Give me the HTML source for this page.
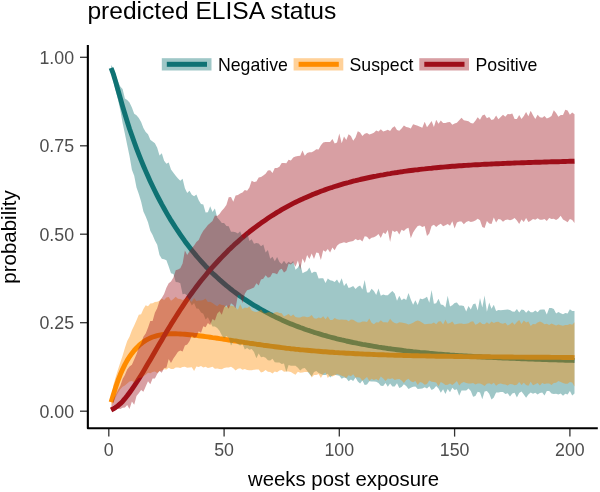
<!DOCTYPE html>
<html><head><meta charset="utf-8"><style>
html,body{margin:0;padding:0;background:#fff;width:600px;height:492px;overflow:hidden}
svg{display:block;font-family:"Liberation Sans",sans-serif}
#wrap{will-change:transform;width:600px;height:492px}
</style></head><body><div id="wrap">
<svg width="600" height="492" viewBox="0 0 600 492">
<rect width="600" height="492" fill="#fff"/>
<g fill="none" stroke-width="4.9" stroke-linejoin="round" stroke-linecap="butt">
<path d="M111.1,68.0 L113.4,74.2 L115.7,81.9 L118.0,90.1 L120.3,98.2 L122.6,106.3 L124.9,114.0 L127.2,121.5 L129.5,128.7 L131.9,135.5 L134.2,142.0 L136.5,148.3 L138.8,154.3 L141.1,160.1 L143.4,165.7 L145.7,171.1 L148.0,176.3 L150.3,181.4 L152.6,186.3 L154.9,191.0 L157.2,195.6 L159.5,200.0 L161.8,204.4 L164.1,208.5 L166.4,212.6 L168.7,216.6 L171.0,220.4 L173.4,224.1 L175.7,227.7 L178.0,231.2 L180.3,234.6 L182.6,237.9 L184.9,241.2 L187.2,244.3 L189.5,247.3 L191.8,250.2 L194.1,253.1 L196.4,255.9 L198.7,258.5 L201.0,261.1 L203.3,263.7 L205.6,266.2 L207.9,268.5 L210.2,270.9 L212.5,273.2 L214.9,275.4 L217.2,277.5 L219.5,279.6 L221.8,281.6 L224.1,283.6 L226.4,285.6 L228.7,287.4 L231.0,289.3 L233.3,291.1 L235.6,292.8 L237.9,294.5 L240.2,296.2 L242.5,297.8 L244.8,299.4 L247.1,300.9 L249.4,302.4 L251.7,303.9 L254.0,305.3 L256.4,306.7 L258.7,308.0 L261.0,309.4 L263.3,310.6 L265.6,311.9 L267.9,313.1 L270.2,314.3 L272.5,315.5 L274.8,316.6 L277.1,317.8 L279.4,318.8 L281.7,319.9 L284.0,320.9 L286.3,321.9 L288.6,322.9 L290.9,323.9 L293.2,324.8 L295.5,325.7 L297.9,326.6 L300.2,327.5 L302.5,328.3 L304.8,329.2 L307.1,330.0 L309.4,330.7 L311.7,331.5 L314.0,332.3 L316.3,333.0 L318.6,333.7 L320.9,334.4 L323.2,335.1 L325.5,335.7 L327.8,336.4 L330.1,337.0 L332.4,337.6 L334.7,338.2 L337.0,338.8 L339.3,339.3 L341.7,339.9 L344.0,340.4 L346.3,341.0 L348.6,341.5 L350.9,342.0 L353.2,342.5 L355.5,342.9 L357.8,343.4 L360.1,343.8 L362.4,344.3 L364.7,344.7 L367.0,345.1 L369.3,345.5 L371.6,345.9 L373.9,346.3 L376.2,346.7 L378.5,347.1 L380.8,347.4 L383.2,347.8 L385.5,348.1 L387.8,348.5 L390.1,348.8 L392.4,349.1 L394.7,349.4 L397.0,349.7 L399.3,350.0 L401.6,350.3 L403.9,350.6 L406.2,350.9 L408.5,351.1 L410.8,351.4 L413.1,351.7 L415.4,351.9 L417.7,352.1 L420.0,352.4 L422.3,352.6 L424.7,352.8 L427.0,353.0 L429.3,353.3 L431.6,353.5 L433.9,353.7 L436.2,353.9 L438.5,354.1 L440.8,354.2 L443.1,354.4 L445.4,354.6 L447.7,354.8 L450.0,355.0 L452.3,355.1 L454.6,355.3 L456.9,355.4 L459.2,355.6 L461.5,355.7 L463.8,355.9 L466.2,356.0 L468.5,356.2 L470.8,356.3 L473.1,356.4 L475.4,356.6 L477.7,356.7 L480.0,356.8 L482.3,357.0 L484.6,357.1 L486.9,357.2 L489.2,357.3 L491.5,357.4 L493.8,357.5 L496.1,357.6 L498.4,357.7 L500.7,357.8 L503.0,358.0 L505.3,358.1 L507.7,358.1 L510.0,358.2 L512.3,358.3 L514.6,358.4 L516.9,358.5 L519.2,358.6 L521.5,358.7 L523.8,358.8 L526.1,358.9 L528.4,359.0 L530.7,359.1 L533.0,359.1 L535.3,359.2 L537.6,359.3 L539.9,359.4 L542.2,359.5 L544.5,359.5 L546.8,359.6 L549.2,359.7 L551.5,359.8 L553.8,359.8 L556.1,359.9 L558.4,360.0 L560.7,360.1 L563.0,360.1 L565.3,360.2 L567.6,360.3 L569.9,360.4 L572.2,360.4 L574.5,360.5" stroke="#107274" />
<path d="M111.1,402.1 L113.4,394.4 L115.7,387.2 L118.0,380.5 L120.3,374.6 L122.6,369.3 L124.9,364.6 L127.2,360.4 L129.5,356.7 L131.9,353.4 L134.2,350.5 L136.5,348.0 L138.8,345.7 L141.1,343.7 L143.4,341.9 L145.7,340.4 L148.0,339.1 L150.3,338.0 L152.6,337.0 L154.9,336.3 L157.2,335.6 L159.5,335.1 L161.8,334.7 L164.1,334.4 L166.4,334.1 L168.7,333.9 L171.0,333.8 L173.4,333.8 L175.7,333.8 L178.0,333.9 L180.3,334.0 L182.6,334.1 L184.9,334.3 L187.2,334.5 L189.5,334.7 L191.8,334.9 L194.1,335.2 L196.4,335.4 L198.7,335.7 L201.0,336.0 L203.3,336.3 L205.6,336.6 L207.9,336.9 L210.2,337.2 L212.5,337.6 L214.9,337.9 L217.2,338.2 L219.5,338.6 L221.8,338.9 L224.1,339.3 L226.4,339.6 L228.7,340.0 L231.0,340.3 L233.3,340.7 L235.6,341.0 L237.9,341.4 L240.2,341.8 L242.5,342.1 L244.8,342.5 L247.1,342.8 L249.4,343.2 L251.7,343.5 L254.0,343.8 L256.4,344.2 L258.7,344.5 L261.0,344.8 L263.3,345.2 L265.6,345.5 L267.9,345.8 L270.2,346.1 L272.5,346.4 L274.8,346.7 L277.1,347.0 L279.4,347.3 L281.7,347.6 L284.0,347.9 L286.3,348.2 L288.6,348.4 L290.9,348.7 L293.2,348.9 L295.5,349.2 L297.9,349.4 L300.2,349.7 L302.5,349.9 L304.8,350.1 L307.1,350.3 L309.4,350.5 L311.7,350.7 L314.0,350.9 L316.3,351.1 L318.6,351.3 L320.9,351.5 L323.2,351.7 L325.5,351.8 L327.8,352.0 L330.1,352.2 L332.4,352.3 L334.7,352.5 L337.0,352.6 L339.3,352.8 L341.7,352.9 L344.0,353.0 L346.3,353.2 L348.6,353.3 L350.9,353.4 L353.2,353.5 L355.5,353.7 L357.8,353.8 L360.1,353.9 L362.4,354.0 L364.7,354.1 L367.0,354.2 L369.3,354.3 L371.6,354.4 L373.9,354.5 L376.2,354.6 L378.5,354.7 L380.8,354.7 L383.2,354.8 L385.5,354.9 L387.8,355.0 L390.1,355.1 L392.4,355.1 L394.7,355.2 L397.0,355.3 L399.3,355.3 L401.6,355.4 L403.9,355.5 L406.2,355.5 L408.5,355.6 L410.8,355.6 L413.1,355.7 L415.4,355.8 L417.7,355.8 L420.0,355.9 L422.3,355.9 L424.7,355.9 L427.0,356.0 L429.3,356.0 L431.6,356.1 L433.9,356.1 L436.2,356.2 L438.5,356.2 L440.8,356.2 L443.1,356.3 L445.4,356.3 L447.7,356.4 L450.0,356.4 L452.3,356.4 L454.6,356.5 L456.9,356.5 L459.2,356.5 L461.5,356.5 L463.8,356.6 L466.2,356.6 L468.5,356.6 L470.8,356.7 L473.1,356.7 L475.4,356.7 L477.7,356.7 L480.0,356.8 L482.3,356.8 L484.6,356.8 L486.9,356.8 L489.2,356.8 L491.5,356.9 L493.8,356.9 L496.1,356.9 L498.4,356.9 L500.7,356.9 L503.0,357.0 L505.3,357.0 L507.7,357.0 L510.0,357.0 L512.3,357.0 L514.6,357.1 L516.9,357.1 L519.2,357.1 L521.5,357.1 L523.8,357.1 L526.1,357.2 L528.4,357.2 L530.7,357.2 L533.0,357.2 L535.3,357.2 L537.6,357.2 L539.9,357.3 L542.2,357.3 L544.5,357.3 L546.8,357.3 L549.2,357.3 L551.5,357.4 L553.8,357.4 L556.1,357.4 L558.4,357.4 L560.7,357.4 L563.0,357.5 L565.3,357.5 L567.6,357.5 L569.9,357.5 L572.2,357.5 L574.5,357.6" stroke="#ff8c00" />
<path d="M111.1,410.0 L113.4,408.8 L115.7,407.4 L118.0,405.7 L120.3,403.7 L122.6,401.4 L124.9,398.7 L127.2,395.8 L129.5,392.7 L131.9,389.4 L134.2,386.0 L136.5,382.5 L138.8,378.9 L141.1,375.2 L143.4,371.4 L145.7,367.5 L148.0,363.6 L150.3,359.7 L152.6,355.7 L154.9,351.7 L157.2,347.8 L159.5,343.8 L161.8,339.9 L164.1,335.9 L166.4,332.1 L168.7,328.2 L171.0,324.4 L173.4,320.7 L175.7,317.0 L178.0,313.4 L180.3,309.8 L182.6,306.3 L184.9,302.9 L187.2,299.5 L189.5,296.2 L191.8,293.0 L194.1,289.9 L196.4,286.8 L198.7,283.8 L201.0,280.8 L203.3,278.0 L205.6,275.2 L207.9,272.4 L210.2,269.7 L212.5,267.1 L214.9,264.5 L217.2,262.0 L219.5,259.5 L221.8,257.1 L224.1,254.7 L226.4,252.4 L228.7,250.1 L231.0,247.9 L233.3,245.8 L235.6,243.6 L237.9,241.6 L240.2,239.5 L242.5,237.5 L244.8,235.6 L247.1,233.7 L249.4,231.8 L251.7,230.0 L254.0,228.2 L256.4,226.5 L258.7,224.8 L261.0,223.1 L263.3,221.5 L265.6,219.9 L267.9,218.3 L270.2,216.8 L272.5,215.3 L274.8,213.9 L277.1,212.4 L279.4,211.1 L281.7,209.7 L284.0,208.4 L286.3,207.1 L288.6,205.8 L290.9,204.6 L293.2,203.4 L295.5,202.3 L297.9,201.1 L300.2,200.0 L302.5,199.0 L304.8,197.9 L307.1,196.9 L309.4,195.9 L311.7,194.9 L314.0,194.0 L316.3,193.1 L318.6,192.2 L320.9,191.3 L323.2,190.5 L325.5,189.6 L327.8,188.8 L330.1,188.0 L332.4,187.3 L334.7,186.5 L337.0,185.8 L339.3,185.1 L341.7,184.4 L344.0,183.7 L346.3,183.1 L348.6,182.5 L350.9,181.8 L353.2,181.2 L355.5,180.7 L357.8,180.1 L360.1,179.5 L362.4,179.0 L364.7,178.5 L367.0,178.0 L369.3,177.5 L371.6,177.0 L373.9,176.5 L376.2,176.1 L378.5,175.6 L380.8,175.2 L383.2,174.8 L385.5,174.3 L387.8,173.9 L390.1,173.6 L392.4,173.2 L394.7,172.8 L397.0,172.5 L399.3,172.1 L401.6,171.8 L403.9,171.4 L406.2,171.1 L408.5,170.8 L410.8,170.5 L413.1,170.2 L415.4,169.9 L417.7,169.7 L420.0,169.4 L422.3,169.1 L424.7,168.9 L427.0,168.6 L429.3,168.4 L431.6,168.2 L433.9,167.9 L436.2,167.7 L438.5,167.5 L440.8,167.3 L443.1,167.1 L445.4,166.9 L447.7,166.7 L450.0,166.5 L452.3,166.3 L454.6,166.2 L456.9,166.0 L459.2,165.8 L461.5,165.7 L463.8,165.5 L466.2,165.4 L468.5,165.2 L470.8,165.1 L473.1,164.9 L475.4,164.8 L477.7,164.7 L480.0,164.6 L482.3,164.4 L484.6,164.3 L486.9,164.2 L489.2,164.1 L491.5,164.0 L493.8,163.9 L496.1,163.8 L498.4,163.7 L500.7,163.6 L503.0,163.5 L505.3,163.4 L507.7,163.3 L510.0,163.2 L512.3,163.1 L514.6,163.0 L516.9,162.9 L519.2,162.9 L521.5,162.8 L523.8,162.7 L526.1,162.6 L528.4,162.5 L530.7,162.5 L533.0,162.4 L535.3,162.3 L537.6,162.3 L539.9,162.2 L542.2,162.1 L544.5,162.0 L546.8,162.0 L549.2,161.9 L551.5,161.8 L553.8,161.8 L556.1,161.7 L558.4,161.7 L560.7,161.6 L563.0,161.5 L565.3,161.5 L567.6,161.4 L569.9,161.3 L572.2,161.3 L574.5,161.2" stroke="#9e0e1a" />
</g>
<g fill-opacity="0.4" stroke="none">
<path d="M111.1,65.1 L113.4,68.6 L115.7,75.0 L118.0,81.6 L120.3,86.6 L122.6,88.9 L124.9,98.6 L127.2,99.9 L129.5,102.5 L131.9,107.6 L134.2,113.7 L136.5,115.2 L138.8,118.0 L141.1,122.1 L143.4,128.1 L145.7,131.9 L148.0,134.3 L150.3,139.8 L152.6,141.6 L154.9,143.3 L157.2,147.8 L159.5,155.4 L161.8,153.3 L164.1,160.7 L166.4,163.7 L168.7,162.5 L171.0,169.4 L173.4,172.7 L175.7,175.7 L178.0,178.5 L180.3,180.8 L182.6,178.7 L184.9,188.3 L187.2,193.1 L189.5,190.7 L191.8,194.7 L194.1,196.3 L196.4,194.5 L198.7,200.3 L201.0,203.9 L203.3,204.4 L205.6,212.4 L207.9,212.2 L210.2,206.3 L212.5,211.9 L214.9,208.5 L217.2,217.6 L219.5,220.1 L221.8,223.1 L224.1,222.9 L226.4,226.0 L228.7,226.2 L231.0,231.8 L233.3,231.8 L235.6,232.3 L237.9,233.5 L240.2,231.3 L242.5,237.5 L244.8,238.3 L247.1,232.0 L249.4,240.9 L251.7,239.2 L254.0,243.7 L256.4,243.1 L258.7,243.6 L261.0,246.2 L263.3,244.5 L265.6,252.6 L267.9,249.9 L270.2,258.7 L272.5,256.7 L274.8,261.3 L277.1,256.9 L279.4,261.9 L281.7,263.9 L284.0,260.8 L286.3,263.9 L288.6,261.8 L290.9,263.3 L293.2,261.1 L295.5,269.7 L297.9,267.5 L300.2,263.2 L302.5,273.3 L304.8,272.0 L307.1,271.0 L309.4,267.5 L311.7,273.3 L314.0,271.8 L316.3,272.0 L318.6,278.5 L320.9,278.3 L323.2,278.3 L325.5,283.1 L327.8,278.6 L330.1,280.3 L332.4,280.8 L334.7,282.1 L337.0,279.5 L339.3,283.6 L341.7,278.3 L344.0,285.9 L346.3,282.9 L348.6,288.0 L350.9,287.3 L353.2,286.0 L355.5,288.9 L357.8,286.8 L360.1,285.5 L362.4,289.5 L364.7,280.1 L367.0,292.4 L369.3,292.6 L371.6,288.8 L373.9,290.9 L376.2,294.9 L378.5,288.5 L380.8,295.8 L383.2,294.6 L385.5,295.3 L387.8,295.3 L390.1,293.0 L392.4,291.1 L394.7,293.5 L397.0,300.7 L399.3,295.8 L401.6,300.3 L403.9,298.6 L406.2,300.0 L408.5,292.9 L410.8,299.5 L413.1,304.7 L415.4,300.2 L417.7,305.0 L420.0,298.6 L422.3,299.3 L424.7,298.2 L427.0,296.7 L429.3,302.7 L431.6,290.1 L433.9,303.7 L436.2,303.3 L438.5,298.8 L440.8,304.5 L443.1,305.1 L445.4,307.6 L447.7,295.8 L450.0,306.4 L452.3,305.3 L454.6,303.0 L456.9,302.4 L459.2,305.6 L461.5,305.5 L463.8,306.1 L466.2,311.4 L468.5,306.1 L470.8,309.5 L473.1,304.3 L475.4,303.4 L477.7,310.5 L480.0,297.9 L482.3,307.6 L484.6,295.6 L486.9,311.7 L489.2,302.5 L491.5,308.8 L493.8,304.7 L496.1,311.1 L498.4,310.1 L500.7,310.2 L503.0,310.0 L505.3,309.7 L507.7,309.6 L510.0,310.1 L512.3,311.5 L514.6,311.7 L516.9,309.0 L519.2,312.4 L521.5,309.5 L523.8,310.1 L526.1,312.7 L528.4,310.3 L530.7,312.3 L533.0,312.3 L535.3,310.4 L537.6,312.3 L539.9,309.8 L542.2,309.6 L544.5,309.6 L546.8,314.6 L549.2,308.1 L551.5,307.9 L553.8,309.0 L556.1,313.5 L558.4,312.1 L560.7,313.2 L563.0,314.2 L565.3,312.9 L567.6,313.4 L569.9,309.3 L572.2,311.1 L574.5,311.1 L574.5,393.6 L572.2,395.6 L569.9,391.1 L567.6,394.6 L565.3,393.8 L563.0,395.8 L560.7,393.6 L558.4,394.5 L556.1,393.7 L553.8,394.0 L551.5,393.4 L549.2,391.1 L546.8,390.9 L544.5,395.6 L542.2,392.6 L539.9,393.1 L537.6,394.6 L535.3,392.8 L533.0,393.7 L530.7,392.6 L528.4,394.4 L526.1,397.7 L523.8,394.4 L521.5,391.5 L519.2,392.9 L516.9,397.5 L514.6,392.7 L512.3,393.4 L510.0,396.4 L507.7,393.3 L505.3,393.9 L503.0,391.9 L500.7,392.1 L498.4,392.4 L496.1,392.5 L493.8,397.5 L491.5,399.6 L489.2,393.7 L486.9,391.0 L484.6,391.5 L482.3,399.2 L480.0,392.4 L477.7,391.8 L475.4,395.9 L473.1,396.8 L470.8,390.9 L468.5,388.5 L466.2,390.5 L463.8,390.5 L461.5,390.6 L459.2,395.7 L456.9,389.2 L454.6,389.9 L452.3,387.8 L450.0,392.3 L447.7,389.1 L445.4,394.0 L443.1,389.3 L440.8,392.7 L438.5,388.6 L436.2,386.0 L433.9,388.7 L431.6,390.0 L429.3,386.3 L427.0,388.4 L424.7,387.2 L422.3,388.4 L420.0,388.8 L417.7,389.1 L415.4,386.5 L413.1,386.7 L410.8,387.7 L408.5,389.1 L406.2,386.1 L403.9,384.2 L401.6,387.1 L399.3,388.1 L397.0,383.2 L394.7,386.6 L392.4,386.6 L390.1,383.5 L387.8,386.8 L385.5,383.1 L383.2,386.0 L380.8,385.8 L378.5,383.0 L376.2,381.8 L373.9,381.6 L371.6,381.5 L369.3,381.3 L367.0,384.6 L364.7,384.9 L362.4,380.5 L360.1,383.5 L357.8,381.6 L355.5,377.6 L353.2,381.0 L350.9,379.5 L348.6,381.2 L346.3,378.2 L344.0,377.5 L341.7,378.7 L339.3,375.8 L337.0,375.3 L334.7,374.8 L332.4,375.4 L330.1,377.5 L327.8,373.7 L325.5,375.0 L323.2,375.1 L320.9,374.1 L318.6,373.0 L316.3,371.1 L314.0,371.9 L311.7,376.4 L309.4,374.1 L307.1,370.8 L304.8,368.1 L302.5,368.6 L300.2,370.5 L297.9,367.7 L295.5,365.7 L293.2,365.7 L290.9,365.8 L288.6,364.9 L286.3,372.0 L284.0,363.5 L281.7,363.9 L279.4,362.5 L277.1,362.5 L274.8,362.3 L272.5,358.7 L270.2,360.5 L267.9,360.3 L265.6,357.7 L263.3,356.7 L261.0,357.3 L258.7,353.6 L256.4,358.2 L254.0,352.1 L251.7,348.9 L249.4,349.8 L247.1,347.9 L244.8,349.4 L242.5,343.8 L240.2,345.6 L237.9,344.2 L235.6,342.4 L233.3,342.1 L231.0,345.5 L228.7,337.7 L226.4,335.9 L224.1,338.2 L221.8,335.3 L219.5,330.7 L217.2,328.0 L214.9,326.6 L212.5,326.5 L210.2,321.9 L207.9,317.2 L205.6,319.4 L203.3,313.7 L201.0,312.4 L198.7,308.7 L196.4,308.5 L194.1,303.1 L191.8,305.6 L189.5,301.1 L187.2,295.7 L184.9,293.7 L182.6,294.2 L180.3,283.3 L178.0,282.2 L175.7,281.9 L173.4,274.1 L171.0,273.2 L168.7,266.5 L166.4,260.2 L164.1,259.3 L161.8,258.7 L159.5,255.0 L157.2,244.8 L154.9,240.5 L152.6,235.0 L150.3,230.7 L148.0,222.3 L145.7,216.6 L143.4,211.5 L141.1,201.5 L138.8,193.9 L136.5,187.6 L134.2,175.8 L131.9,169.8 L129.5,156.1 L127.2,145.0 L124.9,133.8 L122.6,123.1 L120.3,110.3 L118.0,99.7 L115.7,90.7 L113.4,81.7 L111.1,70.6 Z" fill="#107274" />
<path d="M111.1,400.0 L113.4,385.0 L115.7,377.0 L118.0,369.5 L120.3,362.5 L122.6,355.7 L124.9,348.1 L127.2,341.1 L129.5,336.7 L131.9,330.2 L134.2,325.4 L136.5,320.3 L138.8,314.7 L141.1,314.2 L143.4,308.9 L145.7,305.2 L148.0,306.2 L150.3,303.6 L152.6,303.3 L154.9,301.9 L157.2,301.8 L159.5,300.7 L161.8,298.5 L164.1,299.9 L166.4,297.5 L168.7,296.9 L171.0,300.7 L173.4,299.0 L175.7,296.8 L178.0,298.7 L180.3,299.0 L182.6,300.0 L184.9,298.7 L187.2,296.8 L189.5,299.7 L191.8,302.0 L194.1,298.0 L196.4,301.0 L198.7,300.5 L201.0,300.4 L203.3,299.9 L205.6,298.6 L207.9,301.9 L210.2,301.8 L212.5,302.9 L214.9,304.8 L217.2,306.2 L219.5,304.0 L221.8,305.1 L224.1,305.3 L226.4,307.4 L228.7,305.2 L231.0,305.8 L233.3,306.1 L235.6,307.4 L237.9,309.7 L240.2,304.3 L242.5,309.1 L244.8,307.5 L247.1,308.0 L249.4,306.6 L251.7,310.4 L254.0,311.4 L256.4,312.1 L258.7,311.2 L261.0,309.6 L263.3,312.5 L265.6,313.3 L267.9,312.3 L270.2,312.3 L272.5,313.8 L274.8,312.5 L277.1,312.0 L279.4,313.1 L281.7,313.3 L284.0,316.5 L286.3,315.2 L288.6,314.1 L290.9,316.2 L293.2,314.5 L295.5,316.9 L297.9,317.5 L300.2,317.5 L302.5,316.6 L304.8,316.6 L307.1,317.3 L309.4,316.7 L311.7,315.1 L314.0,318.2 L316.3,318.8 L318.6,317.4 L320.9,318.3 L323.2,316.3 L325.5,319.3 L327.8,316.3 L330.1,319.9 L332.4,320.0 L334.7,318.0 L337.0,319.3 L339.3,319.7 L341.7,319.4 L344.0,319.8 L346.3,319.8 L348.6,321.3 L350.9,319.6 L353.2,319.8 L355.5,321.2 L357.8,322.4 L360.1,322.5 L362.4,321.5 L364.7,321.4 L367.0,322.0 L369.3,318.5 L371.6,322.7 L373.9,324.2 L376.2,322.2 L378.5,322.6 L380.8,320.2 L383.2,322.2 L385.5,322.2 L387.8,322.6 L390.1,318.7 L392.4,321.6 L394.7,323.1 L397.0,323.4 L399.3,322.2 L401.6,322.6 L403.9,322.9 L406.2,323.5 L408.5,324.6 L410.8,323.7 L413.1,322.8 L415.4,321.3 L417.7,320.4 L420.0,321.2 L422.3,322.7 L424.7,324.2 L427.0,324.1 L429.3,323.8 L431.6,323.7 L433.9,322.5 L436.2,324.3 L438.5,321.4 L440.8,321.2 L443.1,324.5 L445.4,319.7 L447.7,323.7 L450.0,323.0 L452.3,321.4 L454.6,324.5 L456.9,323.9 L459.2,323.6 L461.5,323.4 L463.8,324.0 L466.2,323.7 L468.5,323.3 L470.8,321.8 L473.1,321.2 L475.4,324.7 L477.7,323.8 L480.0,322.0 L482.3,324.0 L484.6,324.2 L486.9,322.2 L489.2,324.1 L491.5,321.4 L493.8,323.1 L496.1,322.1 L498.4,321.7 L500.7,323.2 L503.0,323.7 L505.3,322.7 L507.7,325.5 L510.0,324.2 L512.3,322.3 L514.6,324.8 L516.9,321.9 L519.2,319.9 L521.5,324.0 L523.8,320.5 L526.1,322.6 L528.4,321.4 L530.7,326.1 L533.0,324.0 L535.3,324.2 L537.6,322.6 L539.9,321.6 L542.2,322.6 L544.5,324.3 L546.8,323.8 L549.2,325.1 L551.5,323.6 L553.8,324.6 L556.1,325.4 L558.4,324.6 L560.7,325.3 L563.0,325.7 L565.3,325.0 L567.6,325.0 L569.9,324.0 L572.2,324.7 L574.5,322.3 L574.5,386.5 L572.2,382.5 L569.9,382.0 L567.6,383.8 L565.3,383.7 L563.0,383.1 L560.7,382.0 L558.4,381.1 L556.1,382.8 L553.8,382.9 L551.5,385.0 L549.2,383.5 L546.8,383.6 L544.5,384.0 L542.2,382.9 L539.9,385.5 L537.6,382.9 L535.3,384.3 L533.0,385.2 L530.7,381.7 L528.4,385.8 L526.1,385.1 L523.8,382.8 L521.5,384.9 L519.2,381.9 L516.9,384.8 L514.6,385.2 L512.3,384.2 L510.0,383.9 L507.7,385.4 L505.3,384.4 L503.0,384.3 L500.7,383.5 L498.4,384.1 L496.1,385.7 L493.8,382.8 L491.5,384.5 L489.2,383.3 L486.9,383.7 L484.6,385.9 L482.3,384.5 L480.0,383.5 L477.7,383.5 L475.4,384.5 L473.1,383.1 L470.8,383.5 L468.5,383.5 L466.2,383.1 L463.8,382.0 L461.5,382.9 L459.2,385.5 L456.9,381.0 L454.6,383.3 L452.3,385.0 L450.0,383.6 L447.7,384.8 L445.4,385.0 L443.1,383.3 L440.8,382.1 L438.5,386.3 L436.2,382.5 L433.9,381.9 L431.6,381.7 L429.3,380.6 L427.0,384.1 L424.7,384.7 L422.3,382.7 L420.0,382.0 L417.7,385.1 L415.4,380.9 L413.1,382.2 L410.8,381.2 L408.5,378.7 L406.2,380.0 L403.9,383.1 L401.6,380.4 L399.3,378.9 L397.0,379.3 L394.7,379.9 L392.4,378.2 L390.1,379.0 L387.8,378.4 L385.5,381.0 L383.2,378.4 L380.8,376.4 L378.5,380.6 L376.2,378.9 L373.9,380.1 L371.6,378.8 L369.3,380.9 L367.0,377.0 L364.7,378.9 L362.4,380.8 L360.1,377.8 L357.8,377.2 L355.5,377.6 L353.2,374.2 L350.9,376.3 L348.6,375.3 L346.3,378.0 L344.0,376.6 L341.7,375.8 L339.3,374.8 L337.0,374.1 L334.7,375.5 L332.4,376.4 L330.1,375.5 L327.8,378.0 L325.5,372.6 L323.2,373.9 L320.9,377.9 L318.6,374.0 L316.3,374.9 L314.0,374.9 L311.7,377.6 L309.4,372.6 L307.1,371.9 L304.8,372.1 L302.5,372.5 L300.2,372.7 L297.9,371.8 L295.5,374.7 L293.2,373.4 L290.9,372.1 L288.6,371.6 L286.3,371.4 L284.0,371.7 L281.7,370.1 L279.4,370.5 L277.1,372.3 L274.8,371.4 L272.5,373.5 L270.2,371.9 L267.9,371.8 L265.6,370.1 L263.3,371.8 L261.0,372.6 L258.7,369.5 L256.4,369.6 L254.0,369.8 L251.7,370.3 L249.4,370.3 L247.1,370.0 L244.8,369.1 L242.5,369.8 L240.2,368.3 L237.9,368.7 L235.6,370.4 L233.3,368.3 L231.0,366.7 L228.7,367.6 L226.4,367.4 L224.1,368.0 L221.8,369.2 L219.5,368.9 L217.2,368.6 L214.9,368.8 L212.5,366.8 L210.2,367.5 L207.9,368.0 L205.6,366.7 L203.3,367.5 L201.0,366.1 L198.7,367.1 L196.4,366.6 L194.1,370.9 L191.8,367.3 L189.5,367.5 L187.2,367.7 L184.9,366.8 L182.6,367.1 L180.3,368.0 L178.0,367.6 L175.7,367.5 L173.4,369.1 L171.0,369.0 L168.7,367.7 L166.4,369.5 L164.1,369.2 L161.8,370.5 L159.5,370.9 L157.2,373.1 L154.9,371.6 L152.6,372.0 L150.3,373.2 L148.0,372.7 L145.7,374.8 L143.4,376.3 L141.1,377.8 L138.8,378.0 L136.5,380.3 L134.2,382.3 L131.9,381.1 L129.5,381.5 L127.2,383.4 L124.9,385.6 L122.6,386.8 L120.3,389.3 L118.0,392.7 L115.7,397.3 L113.4,402.5 L111.1,405.8 Z" fill="#ff8c00" />
<path d="M111.1,406.9 L113.4,400.1 L115.7,394.8 L118.0,389.8 L120.3,385.7 L122.6,378.9 L124.9,374.9 L127.2,369.5 L129.5,366.5 L131.9,364.8 L134.2,359.6 L136.5,354.2 L138.8,347.5 L141.1,343.7 L143.4,336.8 L145.7,333.6 L148.0,327.8 L150.3,321.0 L152.6,321.0 L154.9,312.8 L157.2,308.2 L159.5,301.0 L161.8,298.0 L164.1,293.9 L166.4,287.8 L168.7,283.2 L171.0,281.4 L173.4,277.6 L175.7,270.2 L178.0,269.6 L180.3,268.3 L182.6,263.5 L184.9,250.4 L187.2,255.0 L189.5,251.3 L191.8,248.3 L194.1,245.6 L196.4,241.9 L198.7,240.1 L201.0,234.8 L203.3,230.8 L205.6,228.1 L207.9,224.9 L210.2,222.9 L212.5,220.9 L214.9,215.4 L217.2,215.9 L219.5,214.0 L221.8,210.7 L224.1,208.3 L226.4,205.0 L228.7,197.3 L231.0,197.0 L233.3,201.8 L235.6,195.5 L237.9,195.1 L240.2,193.4 L242.5,192.6 L244.8,190.1 L247.1,190.7 L249.4,187.4 L251.7,180.7 L254.0,181.9 L256.4,181.6 L258.7,177.6 L261.0,177.1 L263.3,175.4 L265.6,173.7 L267.9,170.6 L270.2,170.3 L272.5,173.1 L274.8,167.9 L277.1,168.1 L279.4,166.8 L281.7,163.1 L284.0,162.9 L286.3,163.3 L288.6,159.8 L290.9,160.4 L293.2,157.6 L295.5,156.6 L297.9,155.9 L300.2,155.7 L302.5,150.6 L304.8,155.7 L307.1,152.9 L309.4,152.2 L311.7,152.2 L314.0,150.9 L316.3,149.3 L318.6,149.5 L320.9,145.2 L323.2,142.6 L325.5,141.9 L327.8,141.9 L330.1,142.0 L332.4,139.0 L334.7,143.5 L337.0,142.5 L339.3,133.4 L341.7,143.3 L344.0,136.4 L346.3,140.1 L348.6,134.3 L350.9,136.1 L353.2,140.7 L355.5,137.5 L357.8,131.2 L360.1,132.4 L362.4,136.0 L364.7,133.8 L367.0,133.1 L369.3,134.6 L371.6,133.7 L373.9,132.7 L376.2,130.6 L378.5,131.6 L380.8,129.2 L383.2,131.4 L385.5,130.8 L387.8,129.8 L390.1,131.0 L392.4,127.8 L394.7,126.3 L397.0,129.9 L399.3,130.8 L401.6,128.5 L403.9,125.4 L406.2,127.1 L408.5,127.4 L410.8,128.6 L413.1,124.2 L415.4,125.1 L417.7,125.8 L420.0,126.8 L422.3,127.7 L424.7,121.7 L427.0,127.2 L429.3,124.3 L431.6,121.1 L433.9,127.0 L436.2,119.7 L438.5,123.7 L440.8,120.4 L443.1,123.0 L445.4,123.0 L447.7,122.2 L450.0,122.1 L452.3,124.7 L454.6,123.4 L456.9,122.7 L459.2,120.2 L461.5,117.8 L463.8,120.2 L466.2,120.7 L468.5,121.3 L470.8,122.9 L473.1,123.4 L475.4,120.8 L477.7,117.3 L480.0,119.8 L482.3,115.6 L484.6,114.5 L486.9,118.2 L489.2,116.9 L491.5,120.0 L493.8,119.2 L496.1,115.6 L498.4,119.2 L500.7,117.0 L503.0,114.7 L505.3,116.8 L507.7,113.9 L510.0,114.2 L512.3,113.6 L514.6,119.0 L516.9,119.1 L519.2,115.0 L521.5,119.1 L523.8,116.1 L526.1,112.0 L528.4,116.2 L530.7,110.7 L533.0,115.3 L535.3,118.9 L537.6,114.7 L539.9,117.2 L542.2,117.7 L544.5,116.1 L546.8,118.6 L549.2,117.5 L551.5,116.1 L553.8,110.2 L556.1,113.0 L558.4,116.7 L560.7,115.1 L563.0,114.9 L565.3,109.8 L567.6,110.4 L569.9,114.7 L572.2,112.4 L574.5,114.3 L574.5,222.9 L572.2,219.9 L569.9,219.0 L567.6,222.3 L565.3,220.8 L563.0,219.6 L560.7,215.8 L558.4,218.6 L556.1,220.1 L553.8,218.8 L551.5,219.0 L549.2,218.1 L546.8,221.0 L544.5,218.9 L542.2,219.7 L539.9,219.7 L537.6,218.2 L535.3,219.8 L533.0,218.9 L530.7,220.7 L528.4,222.0 L526.1,218.1 L523.8,222.0 L521.5,219.5 L519.2,224.0 L516.9,220.6 L514.6,218.0 L512.3,219.4 L510.0,220.3 L507.7,219.5 L505.3,220.1 L503.0,221.8 L500.7,219.4 L498.4,219.0 L496.1,222.5 L493.8,217.6 L491.5,224.0 L489.2,223.4 L486.9,220.9 L484.6,228.0 L482.3,227.1 L480.0,220.3 L477.7,218.8 L475.4,220.5 L473.1,221.4 L470.8,221.9 L468.5,220.9 L466.2,222.1 L463.8,224.3 L461.5,221.5 L459.2,221.5 L456.9,222.6 L454.6,228.6 L452.3,221.2 L450.0,225.8 L447.7,224.0 L445.4,225.3 L443.1,226.2 L440.8,223.8 L438.5,224.9 L436.2,227.0 L433.9,224.8 L431.6,225.9 L429.3,233.4 L427.0,236.0 L424.7,226.1 L422.3,226.9 L420.0,225.6 L417.7,226.0 L415.4,228.9 L413.1,232.5 L410.8,238.3 L408.5,227.7 L406.2,228.8 L403.9,231.0 L401.6,229.7 L399.3,234.5 L397.0,230.7 L394.7,232.0 L392.4,230.4 L390.1,241.9 L387.8,230.1 L385.5,233.9 L383.2,232.6 L380.8,238.1 L378.5,233.9 L376.2,235.9 L373.9,237.3 L371.6,237.8 L369.3,239.6 L367.0,236.8 L364.7,236.2 L362.4,241.6 L360.1,239.5 L357.8,240.3 L355.5,239.0 L353.2,240.9 L350.9,241.6 L348.6,241.9 L346.3,243.0 L344.0,242.2 L341.7,243.0 L339.3,243.7 L337.0,245.8 L334.7,250.2 L332.4,247.5 L330.1,252.5 L327.8,249.0 L325.5,251.8 L323.2,250.3 L320.9,260.0 L318.6,253.0 L316.3,252.4 L314.0,258.9 L311.7,253.6 L309.4,258.9 L307.1,255.0 L304.8,262.9 L302.5,258.6 L300.2,269.8 L297.9,260.6 L295.5,266.7 L293.2,262.6 L290.9,264.5 L288.6,263.7 L286.3,270.8 L284.0,272.5 L281.7,268.8 L279.4,269.9 L277.1,274.2 L274.8,273.3 L272.5,272.9 L270.2,276.9 L267.9,277.7 L265.6,275.3 L263.3,278.8 L261.0,279.4 L258.7,285.4 L256.4,283.3 L254.0,287.5 L251.7,288.6 L249.4,289.5 L247.1,290.3 L244.8,293.8 L242.5,303.2 L240.2,295.5 L237.9,294.9 L235.6,308.3 L233.3,304.9 L231.0,303.2 L228.7,308.8 L226.4,305.3 L224.1,307.5 L221.8,314.8 L219.5,311.2 L217.2,313.7 L214.9,320.6 L212.5,319.1 L210.2,325.0 L207.9,322.9 L205.6,327.3 L203.3,326.3 L201.0,332.7 L198.7,331.2 L196.4,337.3 L194.1,337.8 L191.8,335.7 L189.5,341.2 L187.2,344.4 L184.9,345.4 L182.6,351.5 L180.3,350.5 L178.0,351.7 L175.7,355.3 L173.4,358.4 L171.0,363.0 L168.7,359.0 L166.4,367.7 L164.1,367.9 L161.8,372.8 L159.5,370.9 L157.2,374.0 L154.9,378.5 L152.6,378.5 L150.3,384.2 L148.0,381.3 L145.7,386.5 L143.4,391.7 L141.1,390.0 L138.8,393.3 L136.5,396.1 L134.2,404.8 L131.9,401.4 L129.5,409.1 L127.2,404.9 L124.9,407.5 L122.6,407.7 L120.3,408.9 L118.0,408.7 L115.7,407.0 L113.4,405.5 L111.1,411.2 Z" fill="#9e0e1a" />
</g>
<g stroke="#333" stroke-width="1.3"><line x1="80" x2="87.8" y1="57.3" y2="57.3" /><line x1="80" x2="87.8" y1="145.8" y2="145.8" /><line x1="80" x2="87.8" y1="234.2" y2="234.2" /><line x1="80" x2="87.8" y1="322.7" y2="322.7" /><line x1="80" x2="87.8" y1="411.2" y2="411.2" /><line x1="108.8" x2="108.8" y1="428.3" y2="436.6" /><line x1="224.1" x2="224.1" y1="428.3" y2="436.6" /><line x1="339.3" x2="339.3" y1="428.3" y2="436.6" /><line x1="454.6" x2="454.6" y1="428.3" y2="436.6" /><line x1="569.9" x2="569.9" y1="428.3" y2="436.6" /></g>
<g stroke="#000" stroke-width="2.1" fill="none" stroke-linecap="butt"><path d="M87.85,45.1 V428.3 H597.8" stroke-linejoin="round"/></g>
<g fill="#4d4d4d" font-size="17.8px"><text x="74.1" y="63.7" text-anchor="end">1.00</text><text x="74.1" y="152.2" text-anchor="end">0.75</text><text x="74.1" y="240.7" text-anchor="end">0.50</text><text x="74.1" y="329.1" text-anchor="end">0.25</text><text x="74.1" y="417.6" text-anchor="end">0.00</text><text x="108.8" y="455.7" text-anchor="middle">0</text><text x="224.1" y="455.7" text-anchor="middle">50</text><text x="339.3" y="455.7" text-anchor="middle">100</text><text x="454.6" y="455.7" text-anchor="middle">150</text><text x="569.9" y="455.7" text-anchor="middle">200</text></g>
<text x="343.6" y="485.6" text-anchor="middle" font-size="20.35px" fill="#000">weeks post exposure</text>
<text transform="translate(15.9,237.0) rotate(-90)" text-anchor="middle" font-size="20.5px" fill="#000">probability</text>
<text x="87.4" y="18.6" font-size="24.6px" fill="#000">predicted ELISA status</text>
<g>
<rect x="161.8" y="58.2" width="49.7" height="12.3" fill="#107274" fill-opacity="0.4"/>
<rect x="166.8" y="61.8" width="40.2" height="5" fill="#107274"/>
<rect x="293.6" y="58.2" width="49.7" height="12.3" fill="#ff8c00" fill-opacity="0.4"/>
<rect x="298.6" y="61.8" width="40.2" height="5" fill="#ff8c00"/>
<rect x="419.3" y="58.2" width="49.7" height="12.3" fill="#9e0e1a" fill-opacity="0.4"/>
<rect x="424.3" y="61.8" width="40.2" height="5" fill="#9e0e1a"/>
</g>
<g font-size="17.7px" fill="#000">
<text x="218" y="71.2">Negative</text>
<text x="349.5" y="71.2">Suspect</text>
<text x="475.5" y="71.2">Positive</text>
</g>
</svg></div>
</body></html>
